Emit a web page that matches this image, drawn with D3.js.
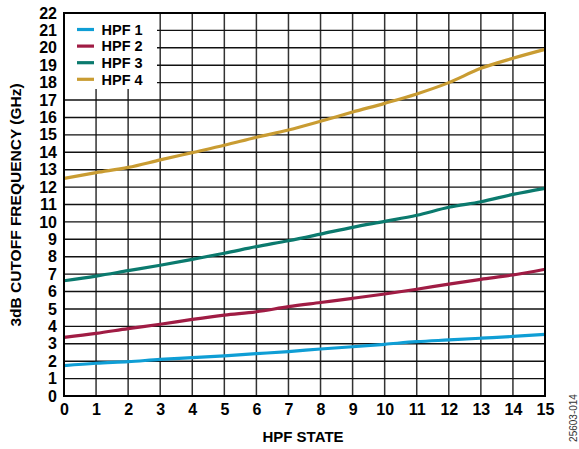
<!DOCTYPE html>
<html><head><meta charset="utf-8">
<script src="https://cdn.jsdelivr.net/npm/d3@7"></script>
<style>body{margin:0;background:#fff}svg{display:block}text{font-family:Arial,"Liberation Sans",sans-serif}</style>
</head><body>
<script>
const states = [0,1,2,3,4,5,6,7,8,9,10,11,12,13,14,15];
const hpf1 = [1.74,1.88,1.97,2.1,2.2,2.31,2.43,2.55,2.7,2.83,2.97,3.12,3.22,3.32,3.42,3.54];
const hpf2 = [3.37,3.6,3.87,4.12,4.4,4.65,4.84,5.13,5.37,5.61,5.86,6.13,6.43,6.7,6.95,7.28];
const hpf3 = [6.62,6.89,7.2,7.51,7.85,8.2,8.58,8.92,9.3,9.69,10.03,10.38,10.84,11.16,11.58,11.93];
const hpf4 = [12.5,12.83,13.13,13.56,13.98,14.4,14.86,15.28,15.78,16.31,16.81,17.35,18.0,18.82,19.4,19.91];
const seriesNames = ["HPF 1","HPF 2","HPF 3","HPF 4"];
const seriesColors = ["#0f9ed5","#a01c44","#0b7a6e","#c99c32"];
const xTicks = d3.range(0,16);
const yTicks = d3.range(0,23);

const W=579,H=449;
const m={l:64,r:34,t:13,b:53};
const FONT="Arial,'Liberation Sans',sans-serif";
const svg=d3.select("body").append("svg").attr("width",W).attr("height",H);
const x=d3.scaleLinear().domain([0,15]).range([m.l,W-m.r]);
const y=d3.scaleLinear().domain([0,22]).range([H-m.b,m.t]);

// grid
svg.append("g").selectAll("line").data(xTicks).join("line")
  .attr("x1",d=>x(d)).attr("x2",d=>x(d)).attr("y1",y(0)).attr("y2",y(22))
  .attr("stroke","#333").attr("stroke-width",1.5);
svg.append("g").selectAll("line").data(yTicks).join("line")
  .attr("x1",x(0)).attr("x2",x(15)).attr("y1",d=>y(d)).attr("y2",d=>y(d))
  .attr("stroke","#111").attr("stroke-width",1.4);

// lines
const all=[hpf1,hpf2,hpf3,hpf4];
const line=d3.line().x((d,i)=>x(states[i])).y(d=>y(d)).curve(d3.curveMonotoneX);
all.forEach((s,i)=>{
  svg.append("path").datum(s).attr("d",line).attr("fill","none")
    .attr("stroke",seriesColors[i]).attr("stroke-width",3.2);
});

// frame
svg.append("rect").attr("x",x(0)).attr("y",y(22)).attr("width",x(15)-x(0)).attr("height",y(0)-y(22))
  .attr("fill","none").attr("stroke","#000").attr("stroke-width",2);

// legend
const lg=svg.append("g");
lg.append("rect").attr("x",x(0)+1).attr("y",y(22)+1).attr("width",92).attr("height",75).attr("fill","#fff");
seriesNames.forEach((n,i)=>{
  const cy=29.5+i*16.6;
  lg.append("line").attr("x1",77).attr("x2",94).attr("y1",cy).attr("y2",cy)
    .attr("stroke",seriesColors[i]).attr("stroke-width",3.2);
  lg.append("text").attr("x",101.5).attr("y",cy+5.2).attr("font-size",14.5).attr("font-weight","bold").text(n);
});

// axes
const xa=d3.axisBottom(x).tickValues(xTicks).tickSize(0).tickPadding(8);
svg.append("g").attr("transform",`translate(0,${y(0)})`).call(xa)
  .call(g=>g.select(".domain").remove())
  .selectAll("text").attr("font-size",16).attr("font-weight","bold").attr("fill","#000")
  .attr("font-family",FONT);
const ya=d3.axisLeft(y).tickValues(yTicks).tickSize(0).tickPadding(7);
svg.append("g").attr("transform",`translate(${x(0)},0)`).call(ya)
  .call(g=>g.select(".domain").remove())
  .selectAll("text").attr("font-size",16).attr("font-weight","bold").attr("fill","#000")
  .attr("font-family",FONT);

svg.append("text").attr("x",303).attr("y",442).attr("text-anchor","middle")
  .attr("font-size",15).attr("font-weight","bold").text("HPF STATE");
svg.append("text").attr("transform",`translate(21,205) rotate(-90)`).attr("text-anchor","middle")
  .attr("font-size",15.5).attr("font-weight","bold").text("3dB CUTOFF FREQUENCY (GHz)");
svg.append("text").attr("transform",`translate(577,418) rotate(-90)`).attr("text-anchor","middle")
  .attr("font-size",10).attr("fill","#333").text("25603-014");
</script>
</body></html>
